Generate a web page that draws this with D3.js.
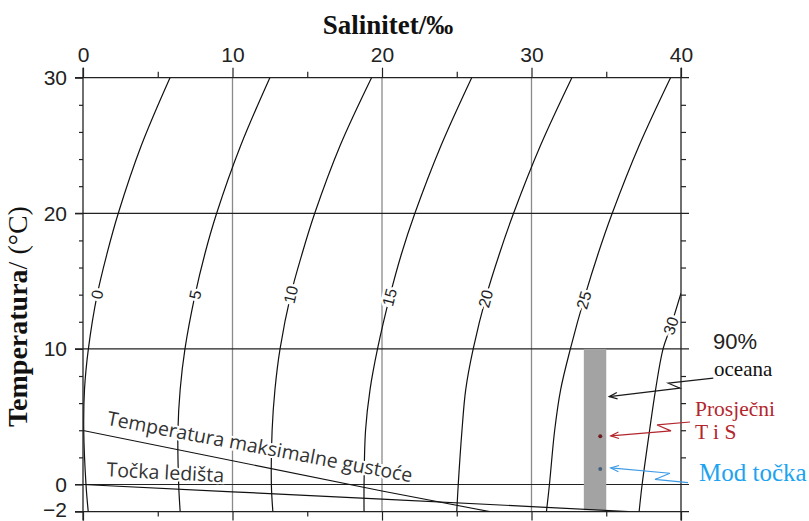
<!DOCTYPE html>
<html><head><meta charset="utf-8">
<script src="https://cdn.jsdelivr.net/npm/d3@7"></script>
<style>
html,body{margin:0;padding:0;background:#fff;}
svg{display:block;}
</style></head>
<body>
<svg id="chart" width="809" height="521"></svg>
<script>
// ---------- data ----------
const salinityTicks = [0, 10, 20, 30, 40];
const salinityMinorTicks = [5, 15, 25, 35];
const tempTicks = [30, 20, 10, 0, -2];
const tempMinorTicks = [28, 26, 24, 22, 18, 16, 14, 12, 8, 6, 4, 2];
const gridSalinity = [10, 20, 30];

// sigma-t isolines: [salinity, temperature]
const sigmaLevels = [0, 5, 10, 15, 20, 25, 30];
const sigma0  = [[5.82,30],[3.9,25],[2.36,20],[1.6,17],[0.95,14],[0.36,10],[0.1,7],[0.05,4],[0.2,0],[0.35,-2]];
const sigma5  = [[12.5,30],[10.55,25],[8.94,20],[8.15,17],[7.5,14],[6.82,10],[6.5,7],[6.35,4],[6.4,0],[6.5,-2]];
const sigma10 = [[19.3,30],[17.2,25],[15.5,20],[14.65,17],[13.9,14],[13.18,10],[12.84,7],[12.65,4],[12.6,0],[12.7,-2]];
const sigma15 = [[26.0,30],[23.95,25],[22.2,20],[21.3,17],[20.55,14],[19.7,10],[19.2,7],[18.9,4],[18.8,0],[18.8,-2]];
const sigma20 = [[32.7,30],[30.6,25],[28.8,20],[27.85,17],[27.0,14],[26.1,10],[25.6,7],[25.35,4],[25.1,0],[25.0,-2]];
const sigma25 = [[39.3,30],[37.2,25],[35.4,20],[34.45,17],[33.6,14],[32.6,10],[31.95,7],[31.55,4],[31.2,0],[31.0,-2]];
const sigma30 = [[40.0,14.1],[39.3,11.6],[38.8,10],[38.3,7],[37.9,4],[37.4,0],[37.2,-2]];
const sigmaLabelTemps = [14, 14, 14, 13.8, 13.7, 13.6, 11.7];

const freezingLine = [[0,0],[10,-0.54],[20,-1.08],[30,-1.63],[36.5,-2]];
const maxDensityLine = [[0,3.98],[10,1.75],[20,-0.48],[27.2,-2]];

const oceanSalinity = [33.5, 35.0];
const oceanTemp = [-1.9, 10];
const avgPoint = [34.6, 3.55];
const modePoint = [34.6, 1.15];

const arrowOcean = [[42.16,7.84],[39.15,7.47],[39.93,7.10],[35.2,6.48]];
const arrowAvg   = [[40.6,4.61],[38.4,4.39],[39.33,3.95],[35.3,3.58]];
const arrowMode  = [[40.47,0.13],[38.26,0.37],[39.26,0.83],[35.3,1.22]];

// ---------- drawing ----------
const svg = d3.select("#chart");
const x = d3.scaleLinear().domain([0, 40]).range([83, 681]);
const y = d3.scaleLinear().domain([-2, 30]).range([511.6, 77.7]);
const sans = "'Liberation Sans', Arial, sans-serif";
const serif = "'Liberation Serif', 'Times New Roman', serif";
const ink = "#222";

svg.append("rect").attr("width", 809).attr("height", 521).attr("fill", "#fff");

svg.append("defs").append("clipPath").attr("id", "plot")
  .append("rect").attr("x", x(0)).attr("y", y(30))
  .attr("width", x(40) - x(0)).attr("height", y(-2) - y(30));

// vertical grid
svg.append("g").selectAll("line").data(gridSalinity).join("line")
  .attr("x1", d => x(d)).attr("x2", d => x(d))
  .attr("y1", y(30)).attr("y2", y(-2))
  .attr("stroke", "#8a8a8a").attr("stroke-width", 1.3);

// horizontal grid (extends past both axes like ticks)
svg.append("g").selectAll("line").data(tempTicks).join("line")
  .attr("x1", x(0) - 8).attr("x2", x(40) + 8)
  .attr("y1", d => y(d)).attr("y2", d => y(d))
  .attr("stroke", ink).attr("stroke-width", 1.2);

// ocean bar
svg.append("rect")
  .attr("x", x(oceanSalinity[0])).attr("width", x(oceanSalinity[1]) - x(oceanSalinity[0]))
  .attr("y", y(oceanTemp[1])).attr("height", y(oceanTemp[0]) - y(oceanTemp[1]))
  .attr("fill", "#a3a3a3");

// isolines
const sigmaData = [sigma0, sigma5, sigma10, sigma15, sigma20, sigma25, sigma30];
const line = d3.line().x(d => x(d[0])).y(d => y(d[1])).curve(d3.curveCatmullRom.alpha(0.5));
const iso = svg.append("g").attr("clip-path", "url(#plot)");
iso.selectAll("path").data(sigmaData).join("path")
  .attr("d", line).attr("fill", "none").attr("stroke", "#111").attr("stroke-width", 1.2);

const straight = d3.line().x(d => x(d[0])).y(d => y(d[1]));
iso.append("path").attr("d", straight(freezingLine)).attr("fill", "none").attr("stroke", "#111").attr("stroke-width", 1.2);
iso.append("path").attr("d", straight(maxDensityLine)).attr("fill", "none").attr("stroke", "#111").attr("stroke-width", 1.1);

// isoline labels
function salAt(pts, t) {
  for (let i = 0; i < pts.length - 1; i++) {
    const a = pts[i], b = pts[i + 1];
    if ((t <= a[1] && t >= b[1])) {
      const f = (a[1] - t) / (a[1] - b[1]);
      return a[0] + f * (b[0] - a[0]);
    }
  }
  return pts[0][0];
}
sigmaData.forEach((pts, i) => {
  const t = sigmaLabelTemps[i];
  const s = salAt(pts, t);
  const sUp = salAt(pts, t + 1.5), sDn = salAt(pts, t - 1.5);
  const ang = Math.atan2(y(t + 1.5) - y(t - 1.5), x(sUp) - x(sDn)) * 180 / Math.PI;
  svg.append("text")
    .attr("transform", `translate(${x(s)},${y(t)}) rotate(${ang})`)
    .attr("text-anchor", "middle").attr("dy", "0.35em")
    .attr("font-family", sans).attr("font-size", 16)
    .attr("fill", ink)
    .attr("stroke", "#fff").attr("stroke-width", 5).attr("paint-order", "stroke")
    .text(sigmaLevels[i]);
});

// line labels
function lineAngle(pts) {
  const a = pts[0], b = pts[pts.length - 1];
  return Math.atan2(y(b[1]) - y(a[1]), x(b[0]) - x(a[0])) * 180 / Math.PI;
}
svg.append("text")
  .attr("transform", `translate(${x(1.55)},${y(4.4)}) rotate(${lineAngle(maxDensityLine) - 0.6})`)
  .attr("font-family", "'Open Sans', 'Noto Sans', sans-serif").attr("font-size", 19.5)
  .attr("fill", "#333").attr("stroke", "#fff").attr("stroke-width", 4).attr("paint-order", "stroke")
  .text("Temperatura maksimalne gustoće");
svg.append("text")
  .attr("transform", `translate(${x(1.55)},${y(0.6)}) rotate(${lineAngle(freezingLine)})`)
  .attr("font-family", "'Open Sans', 'Noto Sans', sans-serif").attr("font-size", 19.5)
  .attr("fill", "#333").attr("stroke", "#fff").attr("stroke-width", 4).attr("paint-order", "stroke")
  .text("Točka ledišta");

// points
svg.append("circle").attr("cx", x(avgPoint[0])).attr("cy", y(avgPoint[1])).attr("r", 2).attr("fill", "#6e1c22");
svg.append("circle").attr("cx", x(modePoint[0])).attr("cy", y(modePoint[1])).attr("r", 2).attr("fill", "#46607e");

// axes
const axG = svg.append("g").attr("font-family", sans);
function styleAxis(g) {
  g.select(".domain").remove();
  g.selectAll(".tick line").attr("stroke", ink).attr("stroke-width", 1.2);
  g.selectAll(".tick text").attr("font-size", 21).attr("fill", ink).attr("font-family", sans);
}
axG.append("g").attr("transform", `translate(0,${y(30)})`)
  .call(d3.axisTop(x).tickValues(salinityTicks).tickSize(10).tickPadding(6)).call(styleAxis);
axG.append("g").attr("transform", `translate(0,${y(30)})`)
  .call(d3.axisTop(x).tickValues(salinityMinorTicks).tickSize(6).tickFormat("")).call(styleAxis);
axG.append("g").attr("transform", `translate(0,${y(-2)})`)
  .call(d3.axisBottom(x).tickValues(salinityTicks).tickSize(9).tickFormat("")).call(styleAxis);
axG.append("g").attr("transform", `translate(0,${y(-2)})`)
  .call(d3.axisBottom(x).tickValues(salinityMinorTicks).tickSize(5).tickFormat("")).call(styleAxis);
const leftAx = axG.append("g").attr("transform", `translate(${x(0)},0)`)
  .call(d3.axisLeft(y).tickValues(tempTicks).tickSize(8).tickPadding(8).tickFormat(d => d < 0 ? "\u2212" + Math.abs(d) : d)).call(styleAxis);
leftAx.selectAll(".tick text").filter(d => d === -2).attr("dy", "0.22em");
axG.append("g").attr("transform", `translate(${x(0)},0)`)
  .call(d3.axisLeft(y).tickValues(tempMinorTicks).tickSize(4).tickFormat("")).call(styleAxis);
axG.append("g").attr("transform", `translate(${x(40)},0)`)
  .call(d3.axisRight(y).tickValues(tempMinorTicks).tickSize(5).tickFormat("")).call(styleAxis);

// axis frame lines
svg.append("line").attr("x1", x(0)).attr("x2", x(0)).attr("y1", y(30) - 10).attr("y2", y(-2) + 9).attr("stroke", ink).attr("stroke-width", 1.3);
svg.append("line").attr("x1", x(40)).attr("x2", x(40)).attr("y1", y(30) - 10).attr("y2", y(-2) + 9).attr("stroke", ink).attr("stroke-width", 1.3);

// titles
svg.append("text").attr("x", 388).attr("y", 34).attr("text-anchor", "middle")
  .attr("font-family", serif).attr("font-weight", "bold").attr("font-size", 27).attr("fill", "#111")
  .text("Salinitet/‰");
const yl = svg.append("text").attr("transform", "translate(27,427) rotate(-90)")
  .attr("font-family", serif).attr("font-size", 28).attr("fill", "#111");
yl.append("tspan").attr("font-weight", "bold").text("Temperatura");
yl.append("tspan").text("/ (°C)");

// annotations
const defs = svg.select("defs");
function marker(id, color) {
  defs.append("marker").attr("id", id).attr("markerUnits", "userSpaceOnUse")
    .attr("viewBox", "-10 -5 12 10").attr("refX", 0).attr("refY", 0)
    .attr("markerWidth", 12).attr("markerHeight", 10).attr("orient", "auto")
    .append("path").attr("d", "M-8,-3.2L0,0L-8,3.2").attr("fill", "none")
    .attr("stroke", color).attr("stroke-width", 1.2);
}
const arrows = [
  {pts: arrowOcean, color: "#1a1a1a", id: "mk0"},
  {pts: arrowAvg, color: "#b3262e", id: "mk1"},
  {pts: arrowMode, color: "#3d9be6", id: "mk2"}
];
arrows.forEach(a => {
  marker(a.id, a.color);
  svg.append("path").attr("d", straight(a.pts)).attr("fill", "none")
    .attr("stroke", a.color).attr("stroke-width", 1.2).attr("marker-end", `url(#${a.id})`);
});

svg.append("text").attr("x", 713).attr("y", 349).attr("font-family", sans).attr("font-size", 22).attr("fill", "#222").text("90%");
svg.append("text").attr("x", 714).attr("y", 376).attr("font-family", serif).attr("font-size", 21).attr("fill", "#111").text("oceana");
svg.append("text").attr("x", 695).attr("y", 416).attr("font-family", serif).attr("font-size", 21.5).attr("fill", "#b3262e").text("Prosječni");
svg.append("text").attr("x", 695).attr("y", 439).attr("font-family", serif).attr("font-size", 21.5).attr("fill", "#b3262e").text("T i S");
svg.append("text").attr("x", 699).attr("y", 481).attr("font-family", serif).attr("font-size", 25).attr("fill", "#1ea3ef").text("Mod točka");
</script>
</body></html>
